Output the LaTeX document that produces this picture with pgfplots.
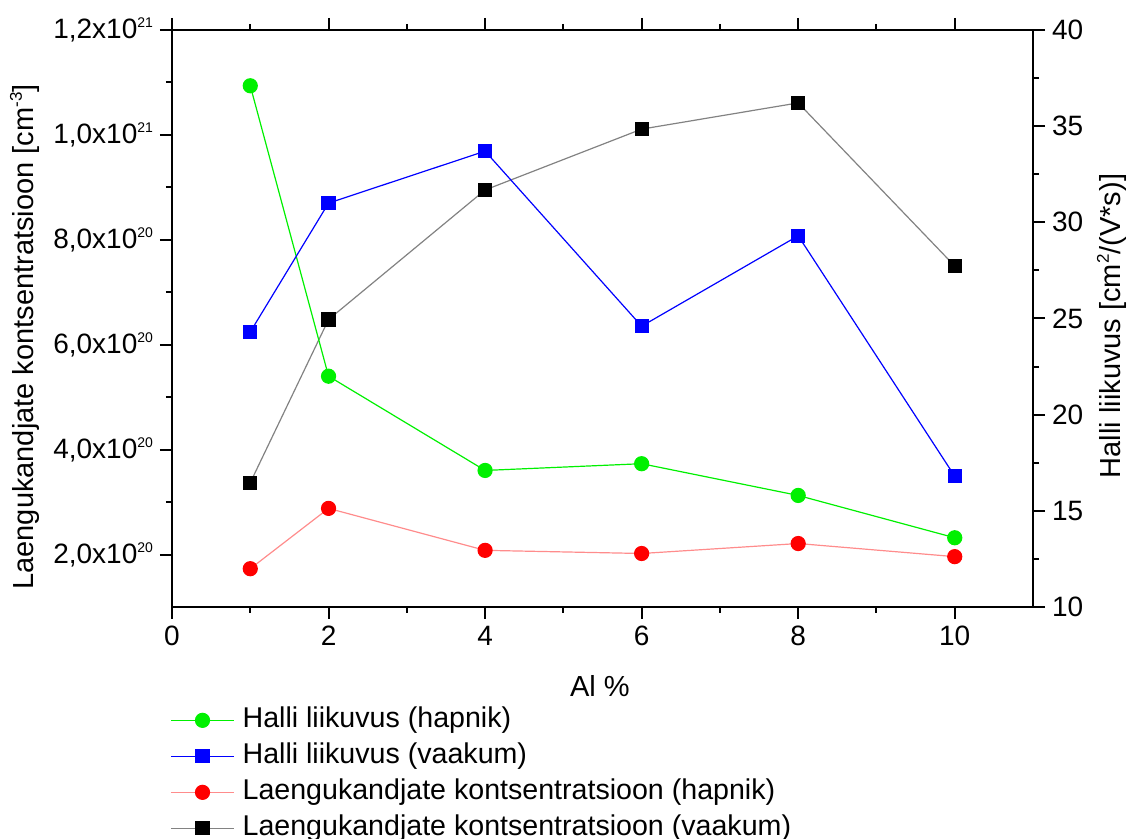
\documentclass[border=0pt]{standalone}
\usepackage{pgfplots}
\pgfplotsset{compat=1.18}
\usepackage{fontspec}
\setmainfont{Liberation Sans}
\definecolor{cgreen}{RGB}{0,240,0}
\definecolor{cblue}{RGB}{0,0,255}
\definecolor{cred}{RGB}{255,0,0}
\definecolor{credline}{RGB}{255,140,140}
\definecolor{cgrayline}{RGB}{130,130,130}
\newcommand{\tsup}[1]{\raisebox{5.5pt}{\fontsize{7}{8}\selectfont #1}}
\newcommand{\lsup}[1]{\raisebox{6pt}{\fontsize{8.5}{9}\selectfont #1}}
\begin{document}
\begin{tikzpicture}
\useasboundingbox (-86pt,-116pt) rectangle (478pt,303.5pt);
\pgfplotsset{
  common/.style={
    scale only axis, width=430.5pt, height=288.5pt,
    at={(0pt,0pt)}, anchor=south west,
    xmin=0, xmax=11,
    tick align=outside,
    major tick length=6pt, minor tick length=3pt,
    every tick/.style={black, line width=1pt},
    axis line style={line width=1pt},
    tick label style={font=\fontsize{14}{16}\selectfont},
    /pgf/number format/assume math mode=true,
    /pgf/number format/use comma,
  },
  greenst/.style={cgreen, line width=0.6pt, mark=*, mark size=3.5pt, mark options={fill=cgreen, draw=cgreen}},
  bluest/.style={cblue, line width=0.6pt, mark=square*, mark size=3.25pt, mark options={fill=cblue, draw=cblue}},
  redst/.style={credline, line width=0.6pt, mark=*, mark size=3.5pt, mark options={fill=cred, draw=cred}},
  blackst/.style={cgrayline, line width=0.6pt, mark=square*, mark size=3.25pt, mark options={fill=black, draw=black}},
}
% Left axis: carrier concentration
\begin{axis}[common,
  ymin=1e20, ymax=1.2e21,
  ytick={2e20,4e20,6e20,8e20,1e21,1.2e21},
  yticklabels={{2,0x10\tsup{20}},{4,0x10\tsup{20}},{6,0x10\tsup{20}},{8,0x10\tsup{20}},{1,0x10\tsup{21}},{1,2x10\tsup{21}}},
  scaled y ticks=false,
  xtick={0,2,4,6,8,10},
  minor x tick num=1, minor y tick num=1,
  xtick pos=both, ytick pos=left,
  xlabel={Al \%},
  ylabel={Laengukandjate kontsentratsioon [cm\lsup{-3}]},
  every axis x label/.style={at={(axis description cs:0.497,-0.137)}, anchor=center, font=\fontsize{14.5}{17}\selectfont},
  every axis y label/.style={at={(axis description cs:-0.1707,0.468)}, rotate=90, anchor=center, font=\fontsize{14.5}{17}\selectfont},
]
\addplot[redst] coordinates {(1,1.73e20) (2,2.88e20) (4,2.08e20) (6,2.02e20) (8,2.21e20) (10,1.96e20)};
\addplot[blackst] coordinates {(1,3.37e20) (2,6.48e20) (4,8.95e20) (6,1.011e21) (8,1.061e21) (10,7.50e20)};
\end{axis}
% Right axis: Hall mobility
\begin{axis}[common,
  ymin=10, ymax=40,
  ytick={10,15,20,25,30,35,40},
  minor y tick num=1,
  axis y line*=right, hide x axis,
  tick align=outside,
  ylabel={Halli liikuvus [cm\lsup{2}/(V*s)]},
  every axis y label/.style={at={(axis description cs:1.0918,0.487)}, rotate=90, anchor=center, font=\fontsize{14.5}{17}\selectfont},
  legend cell align=left,
  legend style={at={(axis description cs:-0.0023,-0.172)}, anchor=north west, draw=none, fill=none,
    font=\fontsize{14.3}{16}\selectfont, row sep=4.3pt, column sep=4pt, inner sep=0pt,
    nodes={inner sep=0pt, text height=10.5pt, text depth=3.2pt}},
  legend image code/.code={\draw[mark repeat=2, mark phase=2] plot coordinates {(0pt,0pt) (15.75pt,0pt) (31.5pt,0pt)};},
]
\addplot[greenst] coordinates {(1,37.1) (2,22.0) (4,17.1) (6,17.45) (8,15.8) (10,13.6)};
\addlegendentry{Halli liikuvus (hapnik)}
\addplot[bluest] coordinates {(1,24.3) (2,31.0) (4,33.7) (6,24.6) (8,29.3) (10,16.8)};
\addlegendentry{Halli liikuvus (vaakum)}
\addlegendimage{redst}
\addlegendentry{Laengukandjate kontsentratsioon (hapnik)}
\addlegendimage{blackst}
\addlegendentry{Laengukandjate kontsentratsioon (vaakum)}
\end{axis}
\end{tikzpicture}
\end{document}
